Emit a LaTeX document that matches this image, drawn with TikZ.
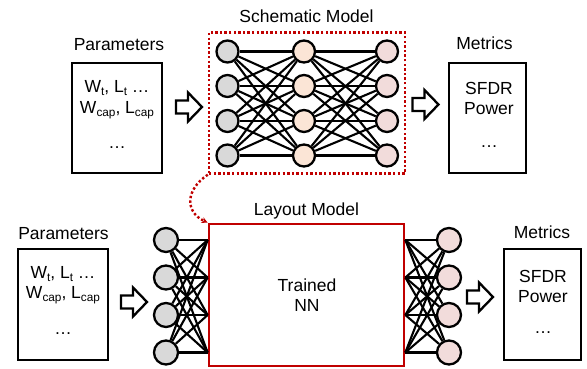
\documentclass[tikz,border=0pt]{standalone}
\usepackage{fontspec}
\setmainfont{Liberation Sans}
\usetikzlibrary{arrows.meta}

\definecolor{nngray}{HTML}{D9D9D9}
\definecolor{nnpeach}{HTML}{FBE5D6}
\definecolor{nnpink}{HTML}{F2DCDB}
\definecolor{modelred}{HTML}{C00000}

% lowered small index, e.g. W_cap
\newcommand\lowidx[1]{\raisebox{-0.32ex}{\fontsize{11.8}{12}\selectfont #1}}

\tikzset{
  txt/.style={inner sep=0pt, font=\fontsize{17.5}{20.5}\selectfont},
  lbl/.style={txt, anchor=base},
  boxtxt/.style={txt, align=center, anchor=north},
  databox/.style={draw, line width=2.6pt, inner sep=0pt, minimum height=110pt},
  neuron/.style={circle, draw, line width=2.3pt, minimum size=22pt, inner sep=0pt},
  link/.style={line width=2.1pt},
  blockarrow/.pic={
    \draw[line width=2.3pt, fill=white, line join=miter]
      (-13,-6.5) -- (-1,-6.5) -- (-1,-14.5) -- (13,0) -- (-1,14.5)
      -- (-1,6.5) -- (-13,6.5) -- cycle;
  }
}

\begin{document}
\begin{tikzpicture}[x=1pt, y=-1pt]
\useasboundingbox (0,0) rectangle (587,369);

% ---------- schematic model (top row) ----------
\node[lbl] (tparlbl) at (119,50.3) {Parameters};
\node[databox, minimum width=90pt] (tpar) at (117,118) {};
\node[boxtxt] (tpartxt) at (117,80.5)
  {W\lowidx{t}, L\lowidx{t} …\\ W\lowidx{cap}, L\lowidx{cap}\\[15pt] …};

\pic at (189,107) {blockarrow};

\node[lbl] (schemlbl) at (306.5,22.3) {Schematic Model};
\node[draw=modelred, line width=2.4pt, dash pattern=on 2.4pt off 2.2pt,
      minimum width=196pt, minimum height=141pt, inner sep=0pt]
  (schem) at (307,103) {};

\foreach \r/\y in {1/51.5,2/86,3/121,4/155.5}{
  \node[neuron, fill=nngray]  (a\r) at (227.5,\y) {};
  \node[neuron, fill=nnpeach] (b\r) at (304,\y) {};
  \node[neuron, fill=nnpink]  (c\r) at (387,\y) {};
}
\foreach \i in {1,...,4}{
  \foreach \j in {1,...,4}{
    \draw[link] (a\i) -- (b\j);
    \draw[link] (b\i) -- (c\j);
  }
}

\pic at (425.5,104.5) {blockarrow};

\node[lbl] (tmetlbl) at (484.5,49.3) {Metrics};
\node[databox, minimum width=77pt] (tmet) at (487.5,118) {};
\node[boxtxt] (tmettxt) at (489,82) {SFDR\\ Power\\[12pt] …};

% ---------- layout model (bottom row) ----------
\node[lbl] (bparlbl) at (63.5,239) {Parameters};
\node[databox, minimum width=90pt, minimum height=111pt] (bpar) at (63,304.5) {};
\node[boxtxt] (bpartxt) at (63,266)
  {W\lowidx{t}, L\lowidx{t} …\\ W\lowidx{cap}, L\lowidx{cap}\\[15pt] …};

\pic at (134,302) {blockarrow};

\node[lbl] (laylbl) at (306.5,215.3) {Layout Model};
\node[draw=modelred, line width=2.7pt, minimum width=195pt,
      minimum height=142pt, inner sep=0pt] (layout) at (306.5,295) {};
\node[txt, align=center] (nn) at (307,295) {Trained\\NN};

\foreach \r/\y in {1/240,2/277.5,3/315,4/352.5}{
  \node[neuron, fill=nngray, minimum size=24pt] (l\r) at (166,\y) {};
  \node[neuron, fill=nnpink, minimum size=24pt] (r\r) at (449,\y) {};
  \coordinate (inl\r) at (layout.west |- l\r);
  \coordinate (outr\r) at (layout.east |- r\r);
}
\foreach \i in {1,...,4}{
  \foreach \j in {1,...,4}{
    \draw[link] (l\i) -- (inl\j);
    \draw[link] (outr\i) -- (r\j);
  }
}

\pic at (480,297) {blockarrow};

\node[lbl] (bmetlbl) at (542,238.3) {Metrics};
\node[databox, minimum width=77pt, minimum height=111pt] (bmet) at (542.5,304.5) {};
\node[boxtxt] (bmettxt) at (543,270) {SFDR\\ Power\\[10pt] …};

% ---------- schematic model feeds the layout model ----------
\draw[modelred, line width=2.4pt, dash pattern=on 2.4pt off 2.2pt,
      -{Stealth[length=6pt, width=6pt]}]
  (schem.south west) .. controls (185,190) and (185,212) .. (layout.north west);

\end{tikzpicture}
\end{document}
